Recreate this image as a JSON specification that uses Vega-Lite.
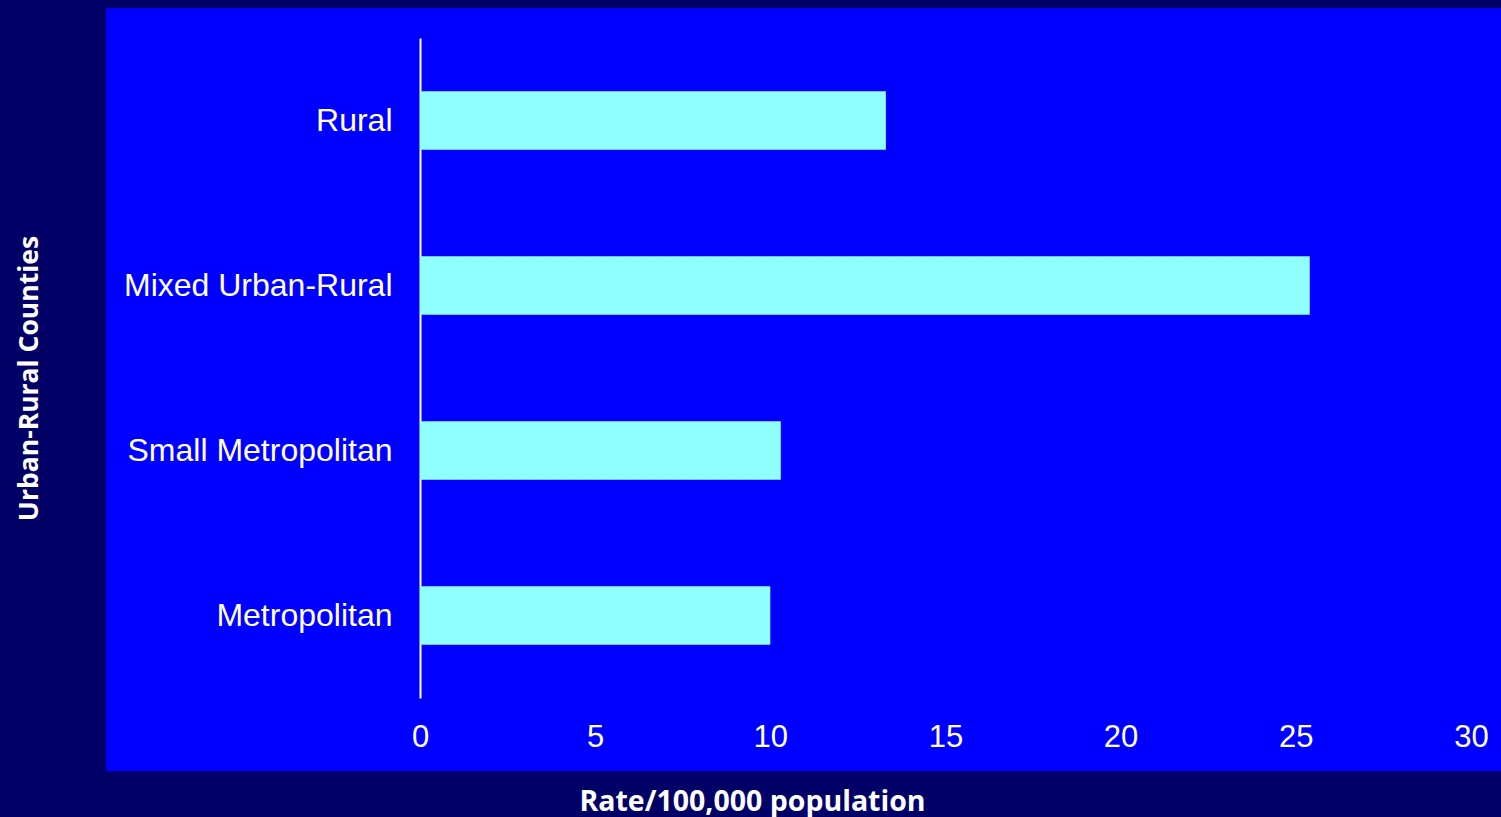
{
  "$schema": "https://vega.github.io/schema/vega-lite/v6.json",
  "width": 1395,
  "height": 763,
  "autosize": {"type": "none"},
  "padding": {"left": 106, "top": 8, "right": 0, "bottom": 46},
  "background": "#000066",
  "view": {"fill": "#0000FF", "stroke": null},
  "data": {
    "values": [
      {"category": "Rural", "rate": 13.3},
      {"category": "Mixed Urban-Rural", "rate": 25.4},
      {"category": "Small Metropolitan", "rate": 10.3},
      {"category": "Metropolitan", "rate": 10.0}
    ]
  },
  "mark": {"type": "bar", "color": "#8FFFFF"},
  "encoding": {
    "y": {
      "field": "category",
      "type": "nominal",
      "sort": null,
      "scale": {"range": [30, 690], "paddingInner": 0.645, "paddingOuter": 0.3225},
      "axis": {
        "title": "Urban-Rural Counties",
        "offset": -314,
        "domainColor": "#FFFFFF",
        "domainWidth": 2,
        "ticks": false,
        "grid": false,
        "labelColor": "#FFFFFF",
        "labelFont": "Liberation Sans",
        "labelFontSize": 32,
        "labelPadding": 28,
        "labelLimit": 0,
        "titleColor": "#FFFFFF",
        "titleFont": "Open Sans",
        "titleFontWeight": "bold",
        "titleFontSize": 26.5,
        "titleX": -391,
        "titleY": 370,
        "titleAngle": -90,
        "titleAlign": "center",
        "titleBaseline": "middle"
      }
    },
    "x": {
      "field": "rate",
      "type": "quantitative",
      "scale": {"domain": [-8.964, 30.86], "nice": false, "zero": false},
      "axis": {
        "values": [0, 5, 10, 15, 20, 25, 30],
        "offset": -34,
        "domain": false,
        "ticks": false,
        "grid": false,
        "labelFlush": false,
        "labelColor": "#FFFFFF",
        "labelFont": "Liberation Sans",
        "labelFontSize": 31,
        "labelBaseline": "middle",
        "labelPadding": 0,
        "title": "Rate/100,000 population",
        "titleColor": "#FFFFFF",
        "titleFont": "Open Sans",
        "titleFontWeight": "bold",
        "titleFontSize": 28.5,
        "titleX": 646,
        "titleY": 64,
        "titleAlign": "center",
        "titleBaseline": "middle"
      }
    },
    "x2": {"datum": 0}
  }
}
